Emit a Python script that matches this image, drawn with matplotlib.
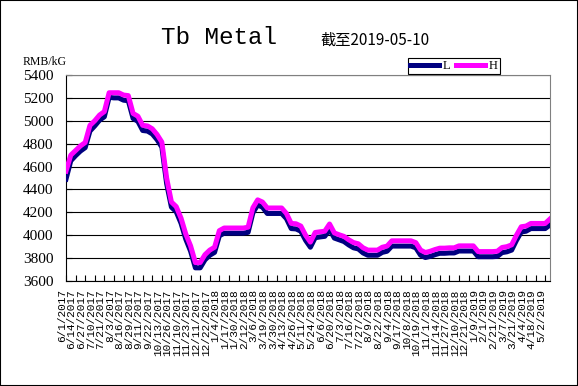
import matplotlib
matplotlib.use('Agg')
import matplotlib.pyplot as plt
from matplotlib.patches import Rectangle
from matplotlib.transforms import ScaledTranslation

# Tb metal price, RMB/kG, 2017-06-01 .. 2019-05-10
price_high = [4560, 4700, 4740, 4780, 4810, 4960, 5000, 5050, 5080, 5245,
              5245, 5245, 5225, 5220, 5064, 5040, 4960, 4955, 4930, 4880,
              4814, 4500, 4290, 4250, 4150, 4010, 3907, 3761, 3761, 3830,
              3870, 3895, 4040, 4063, 4063, 4063, 4063, 4063, 4070, 4240,
              4309, 4290, 4238, 4238, 4238, 4238, 4190, 4103, 4100, 4080,
              4000, 3940, 4024, 4030, 4035, 4098, 4020, 4004, 3990, 3960,
              3936, 3925, 3890, 3870, 3870, 3870, 3895, 3905, 3951, 3951,
              3951, 3951, 3951, 3935, 3870, 3849, 3860, 3875, 3887, 3887,
              3890, 3890, 3907, 3907, 3907, 3907, 3857, 3857, 3857, 3857,
              3860, 3893, 3900, 3916, 4000, 4074, 4080, 4103, 4103, 4103,
              4103, 4142]
price_low = [4490, 4650, 4695, 4735, 4765, 4910, 4955, 5005, 5035, 5205,
             5200, 5200, 5180, 5175, 5020, 4995, 4915, 4910, 4885, 4835,
             4770, 4450, 4245, 4205, 4105, 3965, 3860, 3715, 3715, 3785,
             3825, 3850, 3995, 4018, 4018, 4018, 4018, 4018, 4025, 4195,
             4265, 4245, 4190, 4190, 4190, 4190, 4145, 4058, 4055, 4035,
             3955, 3895, 3978, 3985, 3990, 4050, 3975, 3960, 3945, 3915,
             3890, 3880, 3845, 3825, 3825, 3825, 3850, 3860, 3905, 3905,
             3905, 3905, 3905, 3890, 3825, 3805, 3815, 3830, 3842, 3842,
             3845, 3845, 3862, 3862, 3862, 3862, 3812, 3812, 3812, 3812,
             3815, 3848, 3855, 3870, 3955, 4028, 4035, 4058, 4058, 4058,
             4058, 4090]

date_labels = ['6/1/2017', '6/14/2017', '6/27/2017', '7/10/2017', '7/21/2017',
               '8/3/2017', '8/16/2017', '8/29/2017', '9/11/2017', '9/22/2017',
               '10/13/2017', '10/26/2017', '11/10/2017', '11/23/2017',
               '12/11/2017', '12/22/2017',
               '1/4/2018', '1/17/2018', '1/30/2018', '2/12/2018', '3/6/2018',
               '3/19/2018', '3/30/2018', '4/13/2018', '4/26/2018', '5/11/2018',
               '5/24/2018', '6/6/2018', '6/20/2018', '7/3/2018', '7/16/2018',
               '7/27/2018', '8/9/2018', '8/22/2018', '9/4/2018', '9/17/2018',
               '10/8/2018', '10/19/2018', '11/1/2018', '11/14/2018',
               '11/27/2018', '12/10/2018', '12/21/2018',
               '1/9/2019', '2/1/2019', '2/21/2019', '3/7/2019', '3/21/2019',
               '4/4/2019', '4/18/2019', '5/2/2019']
label_step = 2
y_ticks = [3600, 3800, 4000, 4200, 4400, 4600, 4800, 5000, 5200, 5400]

fig = plt.figure(figsize=(5.78, 3.86), dpi=100)
ax = fig.add_axes([66/578, 1 - 281/386, 484/578, 206/386])

x = list(range(len(price_high)))
ax.plot(x, price_low, color='#000080', linewidth=3.6, label='L', zorder=3)
ax.plot(x, price_high, color='#FF00FF', linewidth=3.6, label='H', zorder=4)

ax.set_xlim(0, len(x) - 1)
ax.set_ylim(3600, 5400)
ax.set_yticks(y_ticks)
ax.set_yticklabels([str(v) for v in y_ticks], family='Liberation Serif', fontsize=11)
ax.tick_params(axis='y', direction='in', length=4.5, width=0.8, pad=9)

xt = [i * label_step for i in range(len(date_labels))]
ax.set_xticks(xt)
ax.set_xticklabels(date_labels, rotation=90, family='Liberation Mono', fontsize=8)
ax.tick_params(axis='x', direction='in', length=4.5, width=0.8, pad=6)
shift = ScaledTranslation(-4/100, 0, fig.dpi_scale_trans)
for lbl in ax.get_xticklabels():
    lbl.set_transform(lbl.get_transform() + shift)

ax.set_axisbelow(True)
ax.yaxis.grid(True, color='black', linewidth=0.8)
for side in ['left', 'bottom']:
    ax.spines[side].set_color('black')
    ax.spines[side].set_linewidth(0.8)
for side in ['top', 'right']:
    ax.spines[side].set_color('#808080')
    ax.spines[side].set_linewidth(0.8)

fig.text(219/578, 1 - 44/386, 'Tb Metal', family='Liberation Mono', fontsize=17.5,
         ha='center', va='baseline')
fig.text(320/578, 1 - 45/386, '截至2019-05-10', family=['Noto Sans CJK SC', 'DejaVu Sans'],
         fontsize=11, ha='left', va='baseline')
fig.text(23/578, 1 - 65/386, 'RMB/kG', family='Liberation Serif', fontsize=8.5,
         ha='left', va='baseline')

leg = fig.legend(loc='upper left', bbox_to_anchor=(408/578, 1 - 58/386), ncol=2,
                 prop={'family': 'Liberation Serif', 'size': 9},
                 handlelength=2.3, handletextpad=0.3, columnspacing=0.5,
                 borderpad=0.15, borderaxespad=0, fancybox=False, framealpha=1)
leg.get_frame().set_edgecolor('black')
leg.get_frame().set_linewidth(0.8)

fig.patches.append(Rectangle((0, 0), 1, 1, transform=fig.transFigure, fill=False,
                             edgecolor='black', linewidth=1.5))

plt.savefig('out.png', dpi=100)
